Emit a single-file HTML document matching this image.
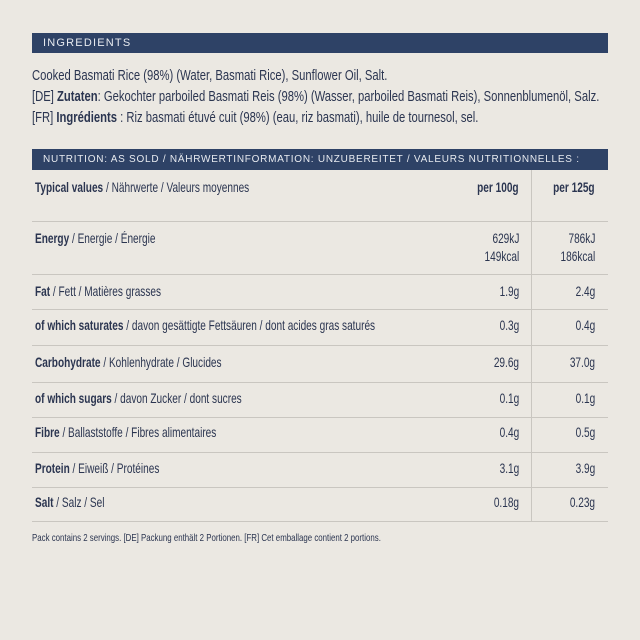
<!DOCTYPE html>
<html><head><meta charset="utf-8"><style>
body{margin:0;width:640px;height:640px;background:#ebe8e2;position:relative;overflow:hidden;font-family:"Liberation Sans",sans-serif;color:#2b3550}
.bar{position:absolute;left:32px;width:576px;background:#2e4266;color:#e8ebf0;font-size:11px;letter-spacing:1.2px;white-space:nowrap;overflow:hidden}
.t{position:absolute;white-space:nowrap;transform:scaleX(0.72);transform-origin:left center;line-height:1}
.r{position:absolute;white-space:nowrap;transform:scaleX(0.72);transform-origin:right center;line-height:1;text-align:right}
.hl{position:absolute;left:32px;width:576px;height:1px;background:#c9c6c0}
b{font-weight:bold}
.ing{font-size:15px;transform:scaleX(0.75)}
.lab{font-size:14px}
</style></head><body>
<div class="bar" style="top:33px;height:20px"><span style="position:absolute;left:11px;top:4px">INGREDIENTS</span></div>
<div class="t ing" style="left:32px;top:68px">Cooked Basmati Rice (98%) (Water, Basmati Rice), Sunflower Oil, Salt.</div>
<div class="t ing" style="left:32px;top:89px">[DE] <b>Zutaten</b>: Gekochter parboiled Basmati Reis (98%) (Wasser, parboiled Basmati Reis), Sonnenblumenöl, Salz.</div>
<div class="t ing" style="left:32px;top:110px">[FR] <b>Ingrédients</b> : Riz basmati étuvé cuit (98%) (eau, riz basmati), huile de tournesol, sel.</div>
<div class="bar" style="top:149px;height:21px;font-size:10px;letter-spacing:0.75px"><span style="position:absolute;left:11px;top:5px">NUTRITION: AS SOLD / NÄHRWERTINFORMATION: UNZUBEREITET / VALEURS NUTRITIONNELLES :</span></div>
<div style="position:absolute;left:531px;top:170px;width:1px;height:351px;background:#c9c6c0"></div>
<div class="hl" style="top:221px"></div>
<div class="hl" style="top:274px"></div>
<div class="hl" style="top:309px"></div>
<div class="hl" style="top:345px"></div>
<div class="hl" style="top:382px"></div>
<div class="hl" style="top:417px"></div>
<div class="hl" style="top:452px"></div>
<div class="hl" style="top:487px"></div>
<div class="hl" style="top:521px"></div>

<div class="t lab" style="left:35px;top:180px"><b>Typical values</b> / Nährwerte / Valeurs moyennes</div>
<div class="r lab" style="right:121px;top:180px"><b>per 100g</b></div>
<div class="r lab" style="right:45px;top:180px"><b>per 125g</b></div>

<div class="t lab" style="left:35px;top:231px"><b>Energy</b> / Energie / Énergie</div>
<div class="r lab" style="right:121px;top:231px">629kJ</div>
<div class="r lab" style="right:45px;top:231px">786kJ</div>
<div class="r lab" style="right:121px;top:249px">149kcal</div>
<div class="r lab" style="right:45px;top:249px">186kcal</div>

<div class="t lab" style="left:35px;top:284px"><b>Fat</b> / Fett / Matières grasses</div>
<div class="r lab" style="right:121px;top:284px">1.9g</div>
<div class="r lab" style="right:45px;top:284px">2.4g</div>

<div class="t lab" style="left:35px;top:318px"><b>of which saturates</b> / davon gesättigte Fettsäuren / dont acides gras saturés</div>
<div class="r lab" style="right:121px;top:318px">0.3g</div>
<div class="r lab" style="right:45px;top:318px">0.4g</div>

<div class="t lab" style="left:35px;top:355px"><b>Carbohydrate</b> / Kohlenhydrate / Glucides</div>
<div class="r lab" style="right:121px;top:355px">29.6g</div>
<div class="r lab" style="right:45px;top:355px">37.0g</div>

<div class="t lab" style="left:35px;top:391px"><b>of which sugars</b> / davon Zucker / dont sucres</div>
<div class="r lab" style="right:121px;top:391px">0.1g</div>
<div class="r lab" style="right:45px;top:391px">0.1g</div>

<div class="t lab" style="left:35px;top:425px"><b>Fibre</b> / Ballaststoffe / Fibres alimentaires</div>
<div class="r lab" style="right:121px;top:425px">0.4g</div>
<div class="r lab" style="right:45px;top:425px">0.5g</div>

<div class="t lab" style="left:35px;top:461px"><b>Protein</b> / Eiweiß / Protéines</div>
<div class="r lab" style="right:121px;top:461px">3.1g</div>
<div class="r lab" style="right:45px;top:461px">3.9g</div>

<div class="t lab" style="left:35px;top:495px"><b>Salt</b> / Salz / Sel</div>
<div class="r lab" style="right:121px;top:495px">0.18g</div>
<div class="r lab" style="right:45px;top:495px">0.23g</div>

<div class="t" style="left:32px;top:533px;font-size:10.5px;transform:scaleX(0.75)">Pack contains 2 servings. [DE] Packung enthält 2 Portionen. [FR] Cet emballage contient 2 portions.</div>
</body></html>
